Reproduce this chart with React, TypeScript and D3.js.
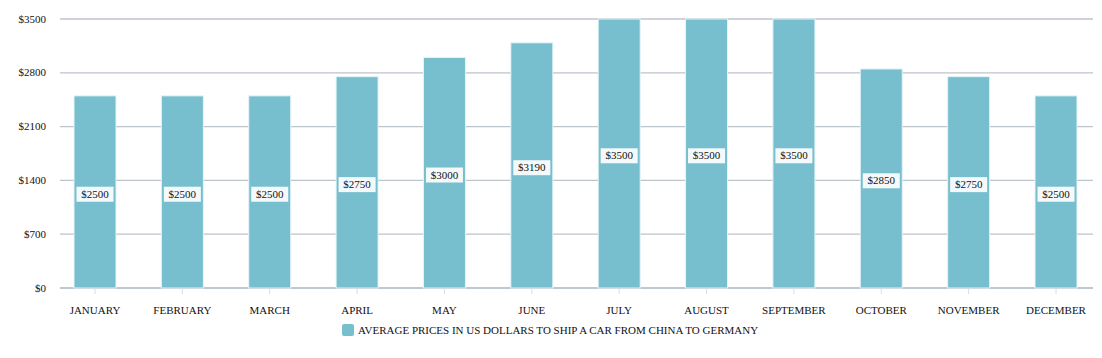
import React from "react";
import * as d3 from "d3";

const categories = ["JANUARY","FEBRUARY","MARCH","APRIL","MAY","JUNE","JULY","AUGUST","SEPTEMBER","OCTOBER","NOVEMBER","DECEMBER"];
const prices = [2500,2500,2500,2750,3000,3190,3500,3500,3500,2850,2750,2500];
const yTicks = [0,700,1400,2100,2800,3500];
const seriesName = "AVERAGE PRICES IN US DOLLARS TO SHIP A CAR FROM CHINA TO GERMANY";

const W = 1102, H = 358;
const gridLeft = 60, gridRight = 1093;
const top = 19, bottom = 288;
const barColor = "#77bfce";
const font = "'Liberation Serif', 'Times New Roman', serif";

export default function App() {
  const xc = d3.scalePoint<string>().domain(categories).range([95, 1056]);
  const y = d3.scaleLinear().domain([0, 3500]).range([bottom, top]);
  const bw = 42;
  return (
    <svg width={W} height={H} style={{ position: "absolute", left: 0, top: 0, background: "#fff" }} fontFamily={font}>
      {yTicks.map((t) => (
        <g key={t}>
          <line x1={gridLeft} x2={gridRight} y1={y(t)} y2={y(t)} stroke={t === 0 ? "#a9b6c4" : "#bcc4cc"} strokeWidth={t === 0 ? 1.5 : 1.3} />
          <text x={46} y={y(t)} dy="0.32em" textAnchor="end" fontSize={11} fill="#111">${t}</text>
        </g>
      ))}
      {categories.map((c, i) => {
        const cx = xc(c)!;
        const v = prices[i];
        const yt = y(v);
        const mid = (yt + bottom) / 2 + 2.3;
        return (
          <g key={c}>
            <line x1={cx} x2={cx} y1={bottom + 1} y2={bottom + 6} stroke="#d8dde2" />
            <rect x={cx - bw / 2} y={yt} width={bw} height={bottom - yt} fill={barColor} stroke="#e4f4f7" strokeWidth={1} />
            <rect x={cx - 18.5} y={mid - 7.5} width={37} height={15} fill="#fff" fillOpacity={0.92} />
            <text x={cx} y={mid} dy="0.32em" textAnchor="middle" fontSize={11} fill="#111">${v}</text>
            <text x={cx} y={310} dy="0.32em" textAnchor="middle" fontSize={11} fill="#111">{c}</text>
          </g>
        );
      })}
      <rect x={342} y={324} width={12} height={12} rx={2} fill={barColor} />
      <text x={358} y={330} dy="0.32em" fontSize={11} fill="#111">{seriesName}</text>
    </svg>
  );
}
